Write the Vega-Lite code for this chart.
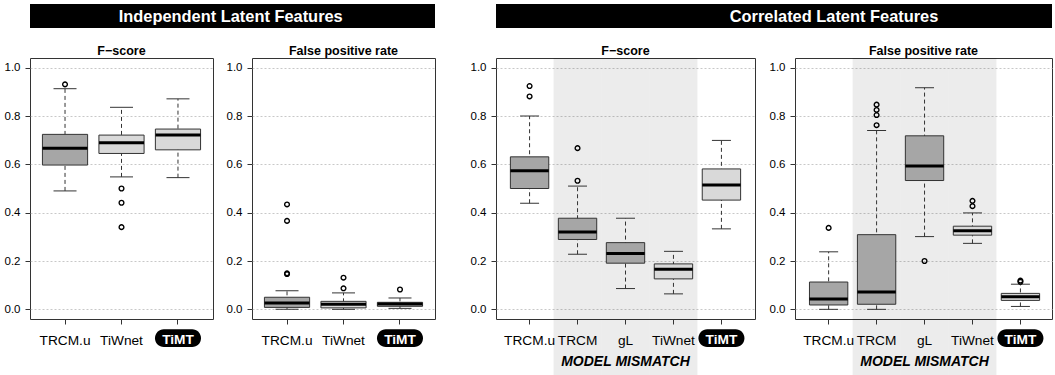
{
"$schema": "https://vega.github.io/schema/vega-lite/v6.json",
"background": "white",
"padding": {"left": 3, "top": 3, "right": 0, "bottom": 0},
"autosize": {"type": "pad"},
"config": {"font": "Liberation Sans", "view": {"stroke": "#333", "strokeWidth": 1}},
"datasets": {
"boxes": [
{"group":"Independent","metric":"F-score","method":"TRCM.u","lower":0.490,"q1":0.597,"median":0.667,"q3":0.724,"upper":0.913},
{"group":"Independent","metric":"F-score","method":"TiWnet","lower":0.548,"q1":0.645,"median":0.689,"q3":0.721,"upper":0.836},
{"group":"Independent","metric":"F-score","method":"TiMT","lower":0.545,"q1":0.660,"median":0.721,"q3":0.746,"upper":0.871},
{"group":"Independent","metric":"FPR","method":"TRCM.u","lower":0.000,"q1":0.008,"median":0.026,"q3":0.050,"upper":0.077},
{"group":"Independent","metric":"FPR","method":"TiWnet","lower":0.000,"q1":0.006,"median":0.021,"q3":0.033,"upper":0.068},
{"group":"Independent","metric":"FPR","method":"TiMT","lower":0.004,"q1":0.0125,"median":0.022,"q3":0.029,"upper":0.047},
{"group":"Correlated","metric":"F-score","method":"TRCM.u","lower":0.439,"q1":0.500,"median":0.573,"q3":0.631,"upper":0.800},
{"group":"Correlated","metric":"F-score","method":"TRCM","lower":0.228,"q1":0.289,"median":0.320,"q3":0.377,"upper":0.510},
{"group":"Correlated","metric":"F-score","method":"gL","lower":0.086,"q1":0.191,"median":0.231,"q3":0.276,"upper":0.377},
{"group":"Correlated","metric":"F-score","method":"TiWnet","lower":0.064,"q1":0.126,"median":0.166,"q3":0.188,"upper":0.240},
{"group":"Correlated","metric":"F-score","method":"TiMT","lower":0.333,"q1":0.452,"median":0.514,"q3":0.581,"upper":0.699},
{"group":"Correlated","metric":"FPR","method":"TRCM.u","lower":0.000,"q1":0.018,"median":0.043,"q3":0.113,"upper":0.238},
{"group":"Correlated","metric":"FPR","method":"TRCM","lower":0.000,"q1":0.021,"median":0.072,"q3":0.309,"upper":0.740},
{"group":"Correlated","metric":"FPR","method":"gL","lower":0.301,"q1":0.533,"median":0.593,"q3":0.718,"upper":0.917},
{"group":"Correlated","metric":"FPR","method":"TiWnet","lower":0.273,"q1":0.307,"median":0.325,"q3":0.344,"upper":0.399},
{"group":"Correlated","metric":"FPR","method":"TiMT","lower":0.012,"q1":0.037,"median":0.052,"q3":0.066,"upper":0.104}
],
"outliers": [
{"group":"Independent","metric":"F-score","method":"TRCM.u","value":0.931},
{"group":"Independent","metric":"F-score","method":"TiWnet","value":0.500},
{"group":"Independent","metric":"F-score","method":"TiWnet","value":0.441},
{"group":"Independent","metric":"F-score","method":"TiWnet","value":0.340},
{"group":"Independent","metric":"FPR","method":"TRCM.u","value":0.434},
{"group":"Independent","metric":"FPR","method":"TRCM.u","value":0.366},
{"group":"Independent","metric":"FPR","method":"TRCM.u","value":0.149},
{"group":"Independent","metric":"FPR","method":"TRCM.u","value":0.146},
{"group":"Independent","metric":"FPR","method":"TiWnet","value":0.131},
{"group":"Independent","metric":"FPR","method":"TiWnet","value":0.087},
{"group":"Independent","metric":"FPR","method":"TiMT","value":0.082},
{"group":"Correlated","metric":"F-score","method":"TRCM.u","value":0.924},
{"group":"Correlated","metric":"F-score","method":"TRCM.u","value":0.881},
{"group":"Correlated","metric":"F-score","method":"TRCM","value":0.667},
{"group":"Correlated","metric":"F-score","method":"TRCM","value":0.532},
{"group":"Correlated","metric":"FPR","method":"TRCM.u","value":0.337},
{"group":"Correlated","metric":"FPR","method":"TRCM","value":0.847},
{"group":"Correlated","metric":"FPR","method":"TRCM","value":0.825},
{"group":"Correlated","metric":"FPR","method":"TRCM","value":0.804},
{"group":"Correlated","metric":"FPR","method":"TRCM","value":0.762},
{"group":"Correlated","metric":"FPR","method":"gL","value":0.200},
{"group":"Correlated","metric":"FPR","method":"TiWnet","value":0.449},
{"group":"Correlated","metric":"FPR","method":"TiWnet","value":0.427},
{"group":"Correlated","metric":"FPR","method":"TiMT","value":0.119},
{"group":"Correlated","metric":"FPR","method":"TiMT","value":0.114}
]
},
"hconcat": [
{
"width": 183, "height": 261,
"layer": [
{"data": {"values": [{"label": "Independent Latent Features"}]}, "mark": {"type": "rect", "fill": "#000"},
 "encoding": {"y": {"datum": 1.2634, "type": "quantitative", "scale": {"domain": [-0.04, 1.04], "nice": false, "zero": false}, "title": null}, "y2": {"datum": 1.1641}}},
{"data": {"values": [{"label": "F−score"}]}, "mark": {"type": "text", "fontSize": 12.5, "fontWeight": "bold", "baseline": "alphabetic", "color": "#000"},
 "encoding": {"text": {"field": "label"}, "y": {"datum": 1.0524, "type": "quantitative", "scale": {"domain": [-0.04, 1.04], "nice": false, "zero": false}, "title": null}}},
{"data": {"name": "boxes"}, "transform": [{"filter": "datum.group == 'Independent' && datum.metric == 'F-score'"}],
 "mark": {"type": "rule", "stroke": "#333", "strokeWidth": 1, "strokeDash": [4, 3]},
 "encoding": {"x": {"field": "method", "type": "nominal", "scale": {"type": "band", "domain": ["TRCM.u", "TiWnet", "TiMT"], "paddingInner": 0, "paddingOuter": 0.12}, "axis": {"title": null, "labelExpr": "datum.value == 'TiMT' ? '' : datum.value", "labelFontSize": 13.7, "labelColor": "#000", "labelPadding": 20, "labelBaseline": "alphabetic", "labelAlign": "center", "bandPosition": 0.5, "tickBand": "center", "tickSize": 5, "tickColor": "#333", "domain": false, "labelAngle": 0}},
  "y": {"field": "lower", "type": "quantitative", "scale": {"domain": [-0.04, 1.04], "nice": false, "zero": false}, "axis": {"title": null, "format": ".1f", "values": [0, 0.2, 0.4, 0.6, 0.8, 1], "labelFontSize": 11.5, "labelColor": "#000", "labelPadding": 5, "tickSize": 5, "tickColor": "#333", "domain": false, "grid": true, "gridColor": "#C8C8C8", "gridDash": [2, 2]}},
  "y2": {"field": "upper"}}},
{"data": {"name": "boxes"}, "transform": [{"filter": "datum.group == 'Independent' && datum.metric == 'F-score'"}],
 "mark": {"type": "tick", "color": "#333", "thickness": 1, "size": 23, "opacity": 1},
 "encoding": {"x": {"field": "method", "type": "nominal", "scale": {"type": "band", "domain": ["TRCM.u", "TiWnet", "TiMT"], "paddingInner": 0, "paddingOuter": 0.12}, "title": null},
  "y": {"field": "lower", "type": "quantitative", "scale": {"domain": [-0.04, 1.04], "nice": false, "zero": false}, "title": null}}},
{"data": {"name": "boxes"}, "transform": [{"filter": "datum.group == 'Independent' && datum.metric == 'F-score'"}],
 "mark": {"type": "tick", "color": "#333", "thickness": 1, "size": 23, "opacity": 1},
 "encoding": {"x": {"field": "method", "type": "nominal", "scale": {"type": "band", "domain": ["TRCM.u", "TiWnet", "TiMT"], "paddingInner": 0, "paddingOuter": 0.12}, "title": null},
  "y": {"field": "upper", "type": "quantitative", "scale": {"domain": [-0.04, 1.04], "nice": false, "zero": false}, "title": null}}},
{"data": {"name": "boxes"}, "transform": [{"filter": "datum.group == 'Independent' && datum.metric == 'F-score'"}],
 "mark": {"type": "bar", "width": {"band": 0.8}, "stroke": "#333", "strokeWidth": 1},
 "encoding": {"x": {"field": "method", "type": "nominal", "scale": {"type": "band", "domain": ["TRCM.u", "TiWnet", "TiMT"], "paddingInner": 0, "paddingOuter": 0.12}, "title": null},
  "y": {"field": "q1", "type": "quantitative", "scale": {"domain": [-0.04, 1.04], "nice": false, "zero": false}, "title": null}, "y2": {"field": "q3"},
  "color": {"field": "method", "type": "nominal", "scale": {"domain": ["TRCM.u", "TRCM", "gL", "TiWnet", "TiMT"], "range": ["#A6A6A6", "#A6A6A6", "#A6A6A6", "#D9D9D9", "#D9D9D9"]}, "legend": null}}},
{"data": {"name": "boxes"}, "transform": [{"filter": "datum.group == 'Independent' && datum.metric == 'F-score'"}],
 "mark": {"type": "tick", "color": "#000", "thickness": 3, "size": 45, "opacity": 1},
 "encoding": {"x": {"field": "method", "type": "nominal", "scale": {"type": "band", "domain": ["TRCM.u", "TiWnet", "TiMT"], "paddingInner": 0, "paddingOuter": 0.12}, "title": null},
  "y": {"field": "median", "type": "quantitative", "scale": {"domain": [-0.04, 1.04], "nice": false, "zero": false}, "title": null}}},
{"data": {"name": "outliers"}, "transform": [{"filter": "datum.group == 'Independent' && datum.metric == 'F-score'"}],
 "mark": {"type": "point", "shape": "circle", "filled": false, "color": "#000", "strokeWidth": 1.4, "size": 22, "opacity": 1},
 "encoding": {"x": {"field": "method", "type": "nominal", "scale": {"type": "band", "domain": ["TRCM.u", "TiWnet", "TiMT"], "paddingInner": 0, "paddingOuter": 0.12}, "title": null},
  "y": {"field": "value", "type": "quantitative", "scale": {"domain": [-0.04, 1.04], "nice": false, "zero": false}, "title": null}}},
{"data": {"values": [{"method": "TiMT"}]}, "mark": {"type": "bar", "fill": "#000", "width": 46, "cornerRadius": 8.8},
 "encoding": {"x": {"field": "method", "type": "nominal", "scale": {"type": "band", "domain": ["TRCM.u", "TiWnet", "TiMT"], "paddingInner": 0, "paddingOuter": 0.12}, "title": null},
  "y": {"datum": -0.0826, "type": "quantitative", "scale": {"domain": [-0.04, 1.04], "nice": false, "zero": false}, "title": null}, "y2": {"datum": -0.1558}}},
{"data": {"values": [{"method": "TiMT"}]}, "mark": {"type": "text", "color": "#fff", "fontWeight": "bold", "fontSize": 13.7, "baseline": "alphabetic"},
 "encoding": {"x": {"field": "method", "type": "nominal", "scale": {"type": "band", "domain": ["TRCM.u", "TiWnet", "TiMT"], "paddingInner": 0, "paddingOuter": 0.12}, "title": null},
  "y": {"datum": -0.1447, "type": "quantitative", "scale": {"domain": [-0.04, 1.04], "nice": false, "zero": false}, "title": null}, "text": {"field": "method"}}}
]
},
{
"width": 39, "height": 261, "view": {"stroke": null},
"data": {"values": [{"label": "Independent Latent Features"}]},
"mark": {"type": "rect", "fill": "#000"},
"encoding": {"y": {"datum": 1.2634, "type": "quantitative", "scale": {"domain": [-0.04, 1.04], "nice": false, "zero": false}, "axis": null}, "y2": {"datum": 1.1641}}
},
{
"width": 183, "height": 261,
"layer": [
{"data": {"values": [{"label": "Independent Latent Features"}]}, "mark": {"type": "rect", "fill": "#000"},
 "encoding": {"y": {"datum": 1.2634, "type": "quantitative", "scale": {"domain": [-0.04, 1.04], "nice": false, "zero": false}, "title": null}, "y2": {"datum": 1.1641}}},
{"data": {"values": [{"label": "False positive rate"}]}, "mark": {"type": "text", "fontSize": 12.5, "fontWeight": "bold", "baseline": "alphabetic", "color": "#000"},
 "encoding": {"text": {"field": "label"}, "y": {"datum": 1.0524, "type": "quantitative", "scale": {"domain": [-0.04, 1.04], "nice": false, "zero": false}, "title": null}}},
{"data": {"values": [{"method": "TRCM.u", "label": "Independent Latent Features"}]}, "mark": {"type": "text", "color": "#fff", "fontSize": 16.4, "fontWeight": "bold", "baseline": "alphabetic", "dx": -56.3},
 "encoding": {"x": {"field": "method", "type": "nominal", "scale": {"type": "band", "domain": ["TRCM.u", "TiWnet", "TiMT"], "paddingInner": 0, "paddingOuter": 0.12}, "title": null},
  "y": {"datum": 1.1902, "type": "quantitative", "scale": {"domain": [-0.04, 1.04], "nice": false, "zero": false}, "title": null}, "text": {"field": "label"}}},
{"data": {"name": "boxes"}, "transform": [{"filter": "datum.group == 'Independent' && datum.metric == 'FPR'"}],
 "mark": {"type": "rule", "stroke": "#333", "strokeWidth": 1, "strokeDash": [4, 3]},
 "encoding": {"x": {"field": "method", "type": "nominal", "scale": {"type": "band", "domain": ["TRCM.u", "TiWnet", "TiMT"], "paddingInner": 0, "paddingOuter": 0.12}, "axis": {"title": null, "labelExpr": "datum.value == 'TiMT' ? '' : datum.value", "labelFontSize": 13.7, "labelColor": "#000", "labelPadding": 20, "labelBaseline": "alphabetic", "labelAlign": "center", "bandPosition": 0.5, "tickBand": "center", "tickSize": 5, "tickColor": "#333", "domain": false, "labelAngle": 0}},
  "y": {"field": "lower", "type": "quantitative", "scale": {"domain": [-0.04, 1.04], "nice": false, "zero": false}, "axis": {"title": null, "format": ".1f", "values": [0, 0.2, 0.4, 0.6, 0.8, 1], "labelFontSize": 11.5, "labelColor": "#000", "labelPadding": 5, "tickSize": 5, "tickColor": "#333", "domain": false, "grid": true, "gridColor": "#C8C8C8", "gridDash": [2, 2]}},
  "y2": {"field": "upper"}}},
{"data": {"name": "boxes"}, "transform": [{"filter": "datum.group == 'Independent' && datum.metric == 'FPR'"}],
 "mark": {"type": "tick", "color": "#333", "thickness": 1, "size": 23, "opacity": 1},
 "encoding": {"x": {"field": "method", "type": "nominal", "scale": {"type": "band", "domain": ["TRCM.u", "TiWnet", "TiMT"], "paddingInner": 0, "paddingOuter": 0.12}, "title": null},
  "y": {"field": "lower", "type": "quantitative", "scale": {"domain": [-0.04, 1.04], "nice": false, "zero": false}, "title": null}}},
{"data": {"name": "boxes"}, "transform": [{"filter": "datum.group == 'Independent' && datum.metric == 'FPR'"}],
 "mark": {"type": "tick", "color": "#333", "thickness": 1, "size": 23, "opacity": 1},
 "encoding": {"x": {"field": "method", "type": "nominal", "scale": {"type": "band", "domain": ["TRCM.u", "TiWnet", "TiMT"], "paddingInner": 0, "paddingOuter": 0.12}, "title": null},
  "y": {"field": "upper", "type": "quantitative", "scale": {"domain": [-0.04, 1.04], "nice": false, "zero": false}, "title": null}}},
{"data": {"name": "boxes"}, "transform": [{"filter": "datum.group == 'Independent' && datum.metric == 'FPR'"}],
 "mark": {"type": "bar", "width": {"band": 0.8}, "stroke": "#333", "strokeWidth": 1},
 "encoding": {"x": {"field": "method", "type": "nominal", "scale": {"type": "band", "domain": ["TRCM.u", "TiWnet", "TiMT"], "paddingInner": 0, "paddingOuter": 0.12}, "title": null},
  "y": {"field": "q1", "type": "quantitative", "scale": {"domain": [-0.04, 1.04], "nice": false, "zero": false}, "title": null}, "y2": {"field": "q3"},
  "color": {"field": "method", "type": "nominal", "scale": {"domain": ["TRCM.u", "TRCM", "gL", "TiWnet", "TiMT"], "range": ["#A6A6A6", "#A6A6A6", "#A6A6A6", "#D9D9D9", "#D9D9D9"]}, "legend": null}}},
{"data": {"name": "boxes"}, "transform": [{"filter": "datum.group == 'Independent' && datum.metric == 'FPR'"}],
 "mark": {"type": "tick", "color": "#000", "thickness": 3, "size": 45, "opacity": 1},
 "encoding": {"x": {"field": "method", "type": "nominal", "scale": {"type": "band", "domain": ["TRCM.u", "TiWnet", "TiMT"], "paddingInner": 0, "paddingOuter": 0.12}, "title": null},
  "y": {"field": "median", "type": "quantitative", "scale": {"domain": [-0.04, 1.04], "nice": false, "zero": false}, "title": null}}},
{"data": {"name": "outliers"}, "transform": [{"filter": "datum.group == 'Independent' && datum.metric == 'FPR'"}],
 "mark": {"type": "point", "shape": "circle", "filled": false, "color": "#000", "strokeWidth": 1.4, "size": 22, "opacity": 1},
 "encoding": {"x": {"field": "method", "type": "nominal", "scale": {"type": "band", "domain": ["TRCM.u", "TiWnet", "TiMT"], "paddingInner": 0, "paddingOuter": 0.12}, "title": null},
  "y": {"field": "value", "type": "quantitative", "scale": {"domain": [-0.04, 1.04], "nice": false, "zero": false}, "title": null}}},
{"data": {"values": [{"method": "TiMT"}]}, "mark": {"type": "bar", "fill": "#000", "width": 46, "cornerRadius": 8.8},
 "encoding": {"x": {"field": "method", "type": "nominal", "scale": {"type": "band", "domain": ["TRCM.u", "TiWnet", "TiMT"], "paddingInner": 0, "paddingOuter": 0.12}, "title": null},
  "y": {"datum": -0.0826, "type": "quantitative", "scale": {"domain": [-0.04, 1.04], "nice": false, "zero": false}, "title": null}, "y2": {"datum": -0.1558}}},
{"data": {"values": [{"method": "TiMT"}]}, "mark": {"type": "text", "color": "#fff", "fontWeight": "bold", "fontSize": 13.7, "baseline": "alphabetic"},
 "encoding": {"x": {"field": "method", "type": "nominal", "scale": {"type": "band", "domain": ["TRCM.u", "TiWnet", "TiMT"], "paddingInner": 0, "paddingOuter": 0.12}, "title": null},
  "y": {"datum": -0.1447, "type": "quantitative", "scale": {"domain": [-0.04, 1.04], "nice": false, "zero": false}, "title": null}, "text": {"field": "method"}}}
]
},
{
"width": 61, "height": 261, "view": {"stroke": null},
"data": {"values": [{"label": ""}]},
"mark": {"type": "text"},
"encoding": {"text": {"field": "label"}}
},
{
"width": 259, "height": 261,
"layer": [
{"data": {"name": "boxes"}, "transform": [{"filter": "datum.group == 'Correlated' && datum.metric == 'F-score'"}, {"filter": {"field": "method", "oneOf": ["TRCM", "gL", "TiWnet"]}}],
 "mark": {"type": "rect", "fill": "#000", "opacity": 0.075},
 "encoding": {"x": {"field": "method", "type": "nominal", "scale": {"type": "band", "domain": ["TRCM.u", "TRCM", "gL", "TiWnet", "TiMT"], "paddingInner": 0, "paddingOuter": 0.2}, "title": null},
  "y": {"datum": 1.04, "type": "quantitative", "scale": {"domain": [-0.04, 1.04], "nice": false, "zero": false}, "title": null}, "y2": {"datum": -0.276}}},
{"data": {"values": [{"label": "Correlated Latent Features"}]}, "mark": {"type": "rect", "fill": "#000"},
 "encoding": {"y": {"datum": 1.2634, "type": "quantitative", "scale": {"domain": [-0.04, 1.04], "nice": false, "zero": false}, "title": null}, "y2": {"datum": 1.1641}}},
{"data": {"values": [{"label": "F−score"}]}, "mark": {"type": "text", "fontSize": 12.5, "fontWeight": "bold", "baseline": "alphabetic", "color": "#000"},
 "encoding": {"text": {"field": "label"}, "y": {"datum": 1.0524, "type": "quantitative", "scale": {"domain": [-0.04, 1.04], "nice": false, "zero": false}, "title": null}}},
{"data": {"name": "boxes"}, "transform": [{"filter": "datum.group == 'Correlated' && datum.metric == 'F-score'"}],
 "mark": {"type": "rule", "stroke": "#333", "strokeWidth": 1, "strokeDash": [4, 3]},
 "encoding": {"x": {"field": "method", "type": "nominal", "scale": {"type": "band", "domain": ["TRCM.u", "TRCM", "gL", "TiWnet", "TiMT"], "paddingInner": 0, "paddingOuter": 0.2}, "axis": {"title": null, "labelExpr": "datum.value == 'TiMT' ? '' : datum.value", "labelFontSize": 13.7, "labelColor": "#000", "labelPadding": 20, "labelBaseline": "alphabetic", "labelAlign": "center", "bandPosition": 0.5, "tickBand": "center", "tickSize": 5, "tickColor": "#333", "domain": false, "labelAngle": 0}},
  "y": {"field": "lower", "type": "quantitative", "scale": {"domain": [-0.04, 1.04], "nice": false, "zero": false}, "axis": {"title": null, "format": ".1f", "values": [0, 0.2, 0.4, 0.6, 0.8, 1], "labelFontSize": 11.5, "labelColor": "#000", "labelPadding": 5, "tickSize": 5, "tickColor": "#333", "domain": false, "grid": true, "gridColor": "#C8C8C8", "gridDash": [2, 2]}},
  "y2": {"field": "upper"}}},
{"data": {"name": "boxes"}, "transform": [{"filter": "datum.group == 'Correlated' && datum.metric == 'F-score'"}],
 "mark": {"type": "tick", "color": "#333", "thickness": 1, "size": 19, "opacity": 1},
 "encoding": {"x": {"field": "method", "type": "nominal", "scale": {"type": "band", "domain": ["TRCM.u", "TRCM", "gL", "TiWnet", "TiMT"], "paddingInner": 0, "paddingOuter": 0.2}, "title": null},
  "y": {"field": "lower", "type": "quantitative", "scale": {"domain": [-0.04, 1.04], "nice": false, "zero": false}, "title": null}}},
{"data": {"name": "boxes"}, "transform": [{"filter": "datum.group == 'Correlated' && datum.metric == 'F-score'"}],
 "mark": {"type": "tick", "color": "#333", "thickness": 1, "size": 19, "opacity": 1},
 "encoding": {"x": {"field": "method", "type": "nominal", "scale": {"type": "band", "domain": ["TRCM.u", "TRCM", "gL", "TiWnet", "TiMT"], "paddingInner": 0, "paddingOuter": 0.2}, "title": null},
  "y": {"field": "upper", "type": "quantitative", "scale": {"domain": [-0.04, 1.04], "nice": false, "zero": false}, "title": null}}},
{"data": {"name": "boxes"}, "transform": [{"filter": "datum.group == 'Correlated' && datum.metric == 'F-score'"}],
 "mark": {"type": "bar", "width": {"band": 0.8}, "stroke": "#333", "strokeWidth": 1},
 "encoding": {"x": {"field": "method", "type": "nominal", "scale": {"type": "band", "domain": ["TRCM.u", "TRCM", "gL", "TiWnet", "TiMT"], "paddingInner": 0, "paddingOuter": 0.2}, "title": null},
  "y": {"field": "q1", "type": "quantitative", "scale": {"domain": [-0.04, 1.04], "nice": false, "zero": false}, "title": null}, "y2": {"field": "q3"},
  "color": {"field": "method", "type": "nominal", "scale": {"domain": ["TRCM.u", "TRCM", "gL", "TiWnet", "TiMT"], "range": ["#A6A6A6", "#A6A6A6", "#A6A6A6", "#D9D9D9", "#D9D9D9"]}, "legend": null}}},
{"data": {"name": "boxes"}, "transform": [{"filter": "datum.group == 'Correlated' && datum.metric == 'F-score'"}],
 "mark": {"type": "tick", "color": "#000", "thickness": 3, "size": 38.4, "opacity": 1},
 "encoding": {"x": {"field": "method", "type": "nominal", "scale": {"type": "band", "domain": ["TRCM.u", "TRCM", "gL", "TiWnet", "TiMT"], "paddingInner": 0, "paddingOuter": 0.2}, "title": null},
  "y": {"field": "median", "type": "quantitative", "scale": {"domain": [-0.04, 1.04], "nice": false, "zero": false}, "title": null}}},
{"data": {"name": "outliers"}, "transform": [{"filter": "datum.group == 'Correlated' && datum.metric == 'F-score'"}],
 "mark": {"type": "point", "shape": "circle", "filled": false, "color": "#000", "strokeWidth": 1.4, "size": 22, "opacity": 1},
 "encoding": {"x": {"field": "method", "type": "nominal", "scale": {"type": "band", "domain": ["TRCM.u", "TRCM", "gL", "TiWnet", "TiMT"], "paddingInner": 0, "paddingOuter": 0.2}, "title": null},
  "y": {"field": "value", "type": "quantitative", "scale": {"domain": [-0.04, 1.04], "nice": false, "zero": false}, "title": null}}},
{"data": {"values": [{"method": "TiMT"}]}, "mark": {"type": "bar", "fill": "#000", "width": 46, "cornerRadius": 8.8},
 "encoding": {"x": {"field": "method", "type": "nominal", "scale": {"type": "band", "domain": ["TRCM.u", "TRCM", "gL", "TiWnet", "TiMT"], "paddingInner": 0, "paddingOuter": 0.2}, "title": null},
  "y": {"datum": -0.0826, "type": "quantitative", "scale": {"domain": [-0.04, 1.04], "nice": false, "zero": false}, "title": null}, "y2": {"datum": -0.1558}}},
{"data": {"values": [{"method": "TiMT"}]}, "mark": {"type": "text", "color": "#fff", "fontWeight": "bold", "fontSize": 13.7, "baseline": "alphabetic"},
 "encoding": {"x": {"field": "method", "type": "nominal", "scale": {"type": "band", "domain": ["TRCM.u", "TRCM", "gL", "TiWnet", "TiMT"], "paddingInner": 0, "paddingOuter": 0.2}, "title": null},
  "y": {"datum": -0.1447, "type": "quantitative", "scale": {"domain": [-0.04, 1.04], "nice": false, "zero": false}, "title": null}, "text": {"field": "method"}}},
{"data": {"values": [{"method": "gL", "label": "MODEL MISMATCH"}]}, "mark": {"type": "text", "color": "#000", "fontWeight": "bold", "fontStyle": "italic", "fontSize": 14, "baseline": "alphabetic"},
 "encoding": {"x": {"field": "method", "type": "nominal", "scale": {"type": "band", "domain": ["TRCM.u", "TRCM", "gL", "TiWnet", "TiMT"], "paddingInner": 0, "paddingOuter": 0.2}, "title": null},
  "y": {"datum": -0.2345, "type": "quantitative", "scale": {"domain": [-0.04, 1.04], "nice": false, "zero": false}, "title": null}, "text": {"field": "label"}}}
]
},
{
"width": 40, "height": 261, "view": {"stroke": null},
"data": {"values": [{"label": "Correlated Latent Features"}]},
"mark": {"type": "rect", "fill": "#000"},
"encoding": {"y": {"datum": 1.2634, "type": "quantitative", "scale": {"domain": [-0.04, 1.04], "nice": false, "zero": false}, "axis": null}, "y2": {"datum": 1.1641}}
},
{
"width": 257, "height": 261,
"layer": [
{"data": {"name": "boxes"}, "transform": [{"filter": "datum.group == 'Correlated' && datum.metric == 'FPR'"}, {"filter": {"field": "method", "oneOf": ["TRCM", "gL", "TiWnet"]}}],
 "mark": {"type": "rect", "fill": "#000", "opacity": 0.075},
 "encoding": {"x": {"field": "method", "type": "nominal", "scale": {"type": "band", "domain": ["TRCM.u", "TRCM", "gL", "TiWnet", "TiMT"], "paddingInner": 0, "paddingOuter": 0.18, "align": 0.56}, "title": null},
  "y": {"datum": 1.04, "type": "quantitative", "scale": {"domain": [-0.04, 1.04], "nice": false, "zero": false}, "title": null}, "y2": {"datum": -0.276}}},
{"data": {"values": [{"label": "Correlated Latent Features"}]}, "mark": {"type": "rect", "fill": "#000"},
 "encoding": {"y": {"datum": 1.2634, "type": "quantitative", "scale": {"domain": [-0.04, 1.04], "nice": false, "zero": false}, "title": null}, "y2": {"datum": 1.1641}}},
{"data": {"values": [{"label": "False positive rate"}]}, "mark": {"type": "text", "fontSize": 12.5, "fontWeight": "bold", "baseline": "alphabetic", "color": "#000"},
 "encoding": {"text": {"field": "label"}, "y": {"datum": 1.0524, "type": "quantitative", "scale": {"domain": [-0.04, 1.04], "nice": false, "zero": false}, "title": null}}},
{"data": {"values": [{"method": "TRCM.u", "label": "Correlated Latent Features"}]}, "mark": {"type": "text", "color": "#fff", "fontSize": 16.4, "fontWeight": "bold", "baseline": "alphabetic", "dx": 5.4},
 "encoding": {"x": {"field": "method", "type": "nominal", "scale": {"type": "band", "domain": ["TRCM.u", "TRCM", "gL", "TiWnet", "TiMT"], "paddingInner": 0, "paddingOuter": 0.18, "align": 0.56}, "title": null},
  "y": {"datum": 1.1902, "type": "quantitative", "scale": {"domain": [-0.04, 1.04], "nice": false, "zero": false}, "title": null}, "text": {"field": "label"}}},
{"data": {"name": "boxes"}, "transform": [{"filter": "datum.group == 'Correlated' && datum.metric == 'FPR'"}],
 "mark": {"type": "rule", "stroke": "#333", "strokeWidth": 1, "strokeDash": [4, 3]},
 "encoding": {"x": {"field": "method", "type": "nominal", "scale": {"type": "band", "domain": ["TRCM.u", "TRCM", "gL", "TiWnet", "TiMT"], "paddingInner": 0, "paddingOuter": 0.18, "align": 0.56}, "axis": {"title": null, "labelExpr": "datum.value == 'TiMT' ? '' : datum.value", "labelFontSize": 13.7, "labelColor": "#000", "labelPadding": 20, "labelBaseline": "alphabetic", "labelAlign": "center", "bandPosition": 0.5, "tickBand": "center", "tickSize": 5, "tickColor": "#333", "domain": false, "labelAngle": 0}},
  "y": {"field": "lower", "type": "quantitative", "scale": {"domain": [-0.04, 1.04], "nice": false, "zero": false}, "axis": {"title": null, "format": ".1f", "values": [0, 0.2, 0.4, 0.6, 0.8, 1], "labelFontSize": 11.5, "labelColor": "#000", "labelPadding": 5, "tickSize": 5, "tickColor": "#333", "domain": false, "grid": true, "gridColor": "#C8C8C8", "gridDash": [2, 2]}},
  "y2": {"field": "upper"}}},
{"data": {"name": "boxes"}, "transform": [{"filter": "datum.group == 'Correlated' && datum.metric == 'FPR'"}],
 "mark": {"type": "tick", "color": "#333", "thickness": 1, "size": 19, "opacity": 1},
 "encoding": {"x": {"field": "method", "type": "nominal", "scale": {"type": "band", "domain": ["TRCM.u", "TRCM", "gL", "TiWnet", "TiMT"], "paddingInner": 0, "paddingOuter": 0.18, "align": 0.56}, "title": null},
  "y": {"field": "lower", "type": "quantitative", "scale": {"domain": [-0.04, 1.04], "nice": false, "zero": false}, "title": null}}},
{"data": {"name": "boxes"}, "transform": [{"filter": "datum.group == 'Correlated' && datum.metric == 'FPR'"}],
 "mark": {"type": "tick", "color": "#333", "thickness": 1, "size": 19, "opacity": 1},
 "encoding": {"x": {"field": "method", "type": "nominal", "scale": {"type": "band", "domain": ["TRCM.u", "TRCM", "gL", "TiWnet", "TiMT"], "paddingInner": 0, "paddingOuter": 0.18, "align": 0.56}, "title": null},
  "y": {"field": "upper", "type": "quantitative", "scale": {"domain": [-0.04, 1.04], "nice": false, "zero": false}, "title": null}}},
{"data": {"name": "boxes"}, "transform": [{"filter": "datum.group == 'Correlated' && datum.metric == 'FPR'"}],
 "mark": {"type": "bar", "width": {"band": 0.8}, "stroke": "#333", "strokeWidth": 1},
 "encoding": {"x": {"field": "method", "type": "nominal", "scale": {"type": "band", "domain": ["TRCM.u", "TRCM", "gL", "TiWnet", "TiMT"], "paddingInner": 0, "paddingOuter": 0.18, "align": 0.56}, "title": null},
  "y": {"field": "q1", "type": "quantitative", "scale": {"domain": [-0.04, 1.04], "nice": false, "zero": false}, "title": null}, "y2": {"field": "q3"},
  "color": {"field": "method", "type": "nominal", "scale": {"domain": ["TRCM.u", "TRCM", "gL", "TiWnet", "TiMT"], "range": ["#A6A6A6", "#A6A6A6", "#A6A6A6", "#D9D9D9", "#D9D9D9"]}, "legend": null}}},
{"data": {"name": "boxes"}, "transform": [{"filter": "datum.group == 'Correlated' && datum.metric == 'FPR'"}],
 "mark": {"type": "tick", "color": "#000", "thickness": 3, "size": 38.4, "opacity": 1},
 "encoding": {"x": {"field": "method", "type": "nominal", "scale": {"type": "band", "domain": ["TRCM.u", "TRCM", "gL", "TiWnet", "TiMT"], "paddingInner": 0, "paddingOuter": 0.18, "align": 0.56}, "title": null},
  "y": {"field": "median", "type": "quantitative", "scale": {"domain": [-0.04, 1.04], "nice": false, "zero": false}, "title": null}}},
{"data": {"name": "outliers"}, "transform": [{"filter": "datum.group == 'Correlated' && datum.metric == 'FPR'"}],
 "mark": {"type": "point", "shape": "circle", "filled": false, "color": "#000", "strokeWidth": 1.4, "size": 22, "opacity": 1},
 "encoding": {"x": {"field": "method", "type": "nominal", "scale": {"type": "band", "domain": ["TRCM.u", "TRCM", "gL", "TiWnet", "TiMT"], "paddingInner": 0, "paddingOuter": 0.18, "align": 0.56}, "title": null},
  "y": {"field": "value", "type": "quantitative", "scale": {"domain": [-0.04, 1.04], "nice": false, "zero": false}, "title": null}}},
{"data": {"values": [{"method": "TiMT"}]}, "mark": {"type": "bar", "fill": "#000", "width": 46, "cornerRadius": 8.8},
 "encoding": {"x": {"field": "method", "type": "nominal", "scale": {"type": "band", "domain": ["TRCM.u", "TRCM", "gL", "TiWnet", "TiMT"], "paddingInner": 0, "paddingOuter": 0.18, "align": 0.56}, "title": null},
  "y": {"datum": -0.0826, "type": "quantitative", "scale": {"domain": [-0.04, 1.04], "nice": false, "zero": false}, "title": null}, "y2": {"datum": -0.1558}}},
{"data": {"values": [{"method": "TiMT"}]}, "mark": {"type": "text", "color": "#fff", "fontWeight": "bold", "fontSize": 13.7, "baseline": "alphabetic"},
 "encoding": {"x": {"field": "method", "type": "nominal", "scale": {"type": "band", "domain": ["TRCM.u", "TRCM", "gL", "TiWnet", "TiMT"], "paddingInner": 0, "paddingOuter": 0.18, "align": 0.56}, "title": null},
  "y": {"datum": -0.1447, "type": "quantitative", "scale": {"domain": [-0.04, 1.04], "nice": false, "zero": false}, "title": null}, "text": {"field": "method"}}},
{"data": {"values": [{"method": "gL", "label": "MODEL MISMATCH"}]}, "mark": {"type": "text", "color": "#000", "fontWeight": "bold", "fontStyle": "italic", "fontSize": 14, "baseline": "alphabetic"},
 "encoding": {"x": {"field": "method", "type": "nominal", "scale": {"type": "band", "domain": ["TRCM.u", "TRCM", "gL", "TiWnet", "TiMT"], "paddingInner": 0, "paddingOuter": 0.18, "align": 0.56}, "title": null},
  "y": {"datum": -0.2345, "type": "quantitative", "scale": {"domain": [-0.04, 1.04], "nice": false, "zero": false}, "title": null}, "text": {"field": "label"}}}
]
}
],
"spacing": 0,
"bounds": "flush"
}
